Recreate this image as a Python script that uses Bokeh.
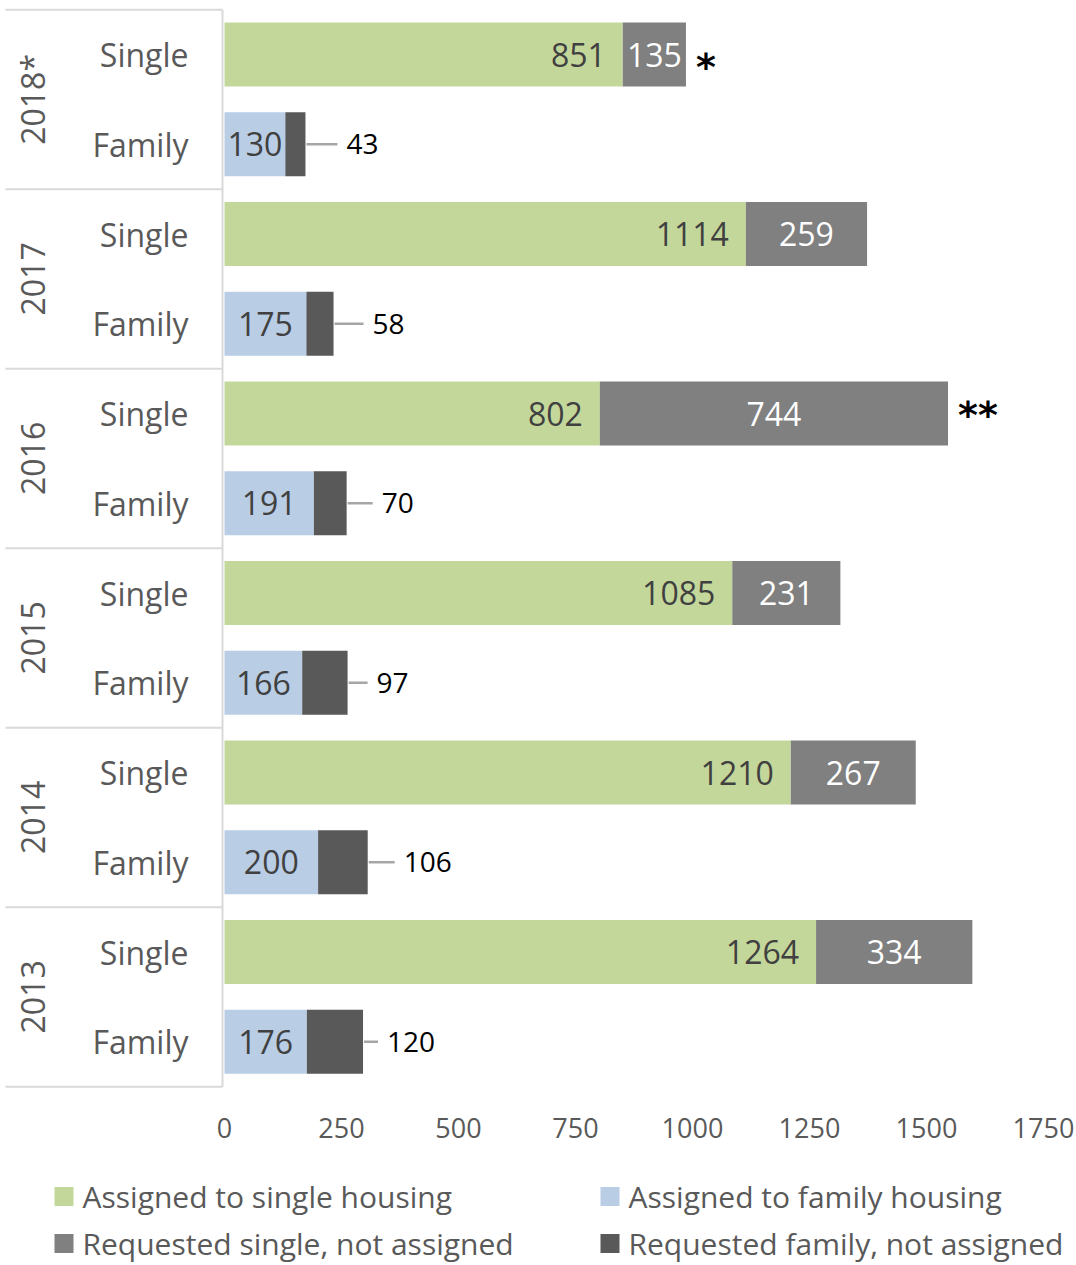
import math
from bokeh.plotting import figure
from bokeh.layouts import column
from bokeh.models import Range1d, FixedTicker, ColumnDataSource
from bokeh.embed import file_html
from bokeh.resources import INLINE
from bokeh.core.properties import value

# ---------------- data ----------------
years = ["2018*", "2017", "2016", "2015", "2014", "2013"]
types = ["Single", "Family"]
single_assigned = [851, 1114, 802, 1085, 1210, 1264]
single_unassigned = [135, 259, 744, 231, 267, 334]
family_assigned = [130, 175, 191, 166, 200, 176]
family_unassigned = [43, 58, 70, 97, 106, 120]
notes = ["*", "", "**", "", "", ""]
x_ticks = [0, 250, 500, 750, 1000, 1250, 1500, 1750]
legend_labels = ["Assigned to single housing", "Assigned to family housing",
                 "Requested single, not assigned", "Requested family, not assigned"]

# ---------------- layout constants ----------------
W = 1076
PX = 819.0 / 1750.0          # pixels per unit
ZERO = 224.0                 # page x of value 0
SLOT = 89.75                 # px between bar centers
SLOT0 = 54.0                 # page y of first bar center
FRAME_BOTTOM = 1092
AXIS_H = 70
H1 = FRAME_BOTTOM + AXIS_H
H2 = 1265 - H1
leader_px = [32, 30, 26, 20, 27, 15]
note_dy = [12, 0, 1, 0, 0, 0]

def dx(px):
    return px / PX

x_start = -ZERO / PX
x_end = (W - ZERO) / PX
y_top = (0 - SLOT0) / SLOT
y_bot = (FRAME_BOTTOM - SLOT0) / SLOT

FONT = value("Open Sans")
GREEN, BLUE, GRAY, DARK = "#C4D79B", "#B9CDE5", "#808080", "#595959"
TXT = "#595959"

p = figure(width=W, height=H1, output_backend="svg", toolbar_location=None,
           x_range=Range1d(x_start, x_end), y_range=Range1d(y_bot, y_top),
           y_axis_location=None, min_border_left=0, min_border_right=0,
           min_border_top=0, min_border_bottom=AXIS_H)
p.outline_line_color = None
p.xgrid.visible = False
p.ygrid.visible = False

n = len(years)
s_slot = [2 * i for i in range(n)]
f_slot = [2 * i + 1 for i in range(n)]
bh = 64.0 / SLOT

src_s = ColumnDataSource(dict(
    y=s_slot, a=single_assigned, u=single_unassigned,
    end=[a + u for a, u in zip(single_assigned, single_unassigned)],
    a_lab=[str(v) for v in single_assigned], u_lab=[str(v) for v in single_unassigned],
    a_x=[a - dx(17) for a in single_assigned],
    u_x=[a + u / 2 for a, u in zip(single_assigned, single_unassigned)],
    note=notes,
    note_y=[k + d / SLOT for k, d in zip(s_slot, note_dy)],
    note_x=[a + u + dx(10) for a, u in zip(single_assigned, single_unassigned)],
))
src_f = ColumnDataSource(dict(
    y=f_slot, a=family_assigned, u=family_unassigned,
    end=[a + u for a, u in zip(family_assigned, family_unassigned)],
    a_lab=[str(v) for v in family_assigned], u_lab=[str(v) for v in family_unassigned],
    a_x=[a / 2 for a in family_assigned],
    l1=[a + u + dx(1) for a, u in zip(family_assigned, family_unassigned)],
    l2=[a + u + dx(L) for a, u, L in zip(family_assigned, family_unassigned, leader_px)],
    t_x=[a + u + dx(L + 9) for a, u, L in zip(family_assigned, family_unassigned, leader_px)],
))

p.hbar(y="y", left=0, right="a", height=bh, source=src_s, fill_color=GREEN, line_color=None)
p.hbar(y="y", left="a", right="end", height=bh, source=src_s, fill_color=GRAY, line_color=None)
p.hbar(y="y", left=0, right="a", height=bh, source=src_f, fill_color=BLUE, line_color=None)
p.hbar(y="y", left="a", right="end", height=bh, source=src_f, fill_color=DARK, line_color=None)

# bar labels
p.text(x="a_x", y="y", text="a_lab", source=src_s, text_font=FONT, text_font_size="32px",
       text_color="#404040", text_align="right", text_baseline="middle")
p.text(x="u_x", y="y", text="u_lab", source=src_s, text_font=FONT, text_font_size="32px",
       text_color="white", text_align="center", text_baseline="middle")
p.text(x="note_x", y="note_y", text="note", source=src_s, text_font=value("DejaVu Sans"),
       text_font_size="38px", text_font_style="bold", text_color="black",
       text_align="left", text_baseline="middle")
p.text(x="a_x", y="y", text="a_lab", source=src_f, text_font=FONT, text_font_size="32px",
       text_color="#404040", text_align="center", text_baseline="middle")
p.segment(x0="l1", y0="y", x1="l2", y1="y", source=src_f, line_color="#A6A6A6", line_width=2.5)
p.text(x="t_x", y="y", text="u_lab", source=src_f, text_font=FONT, text_font_size="28px",
       text_color="black", text_align="left", text_baseline="middle")

# category labels (left)
cat_y = [k for k in range(2 * n)]
cat_t = [types[k % 2] for k in range(2 * n)]
p.text(x=[dx(188 - ZERO)] * (2 * n), y=cat_y, text=cat_t, text_font=FONT,
       text_font_size="32px", text_color=TXT, text_align="right", text_baseline="middle")
p.text(x=[dx(32 - ZERO)] * n, y=[2 * i + 0.5 for i in range(n)], text=years,
       angle=math.pi / 2, text_font=FONT, text_font_size="32px", text_color=TXT,
       text_align="center", text_baseline="middle")

# separators
bounds = [2 * i - 0.5 for i in range(n + 1)]
p.segment(x0=[dx(5 - ZERO)] * (n + 1), y0=bounds, x1=[dx(222 - ZERO)] * (n + 1), y1=bounds,
          line_color="#D9D9D9", line_width=2)
p.segment(x0=[dx(222 - ZERO)], y0=[bounds[0]], x1=[dx(222 - ZERO)], y1=[bounds[-1]],
          line_color="#D9D9D9", line_width=2)

# x axis
ax = p.xaxis[0]
ax.ticker = FixedTicker(ticks=x_ticks)
ax.axis_line_color = None
ax.major_tick_line_color = None
ax.minor_tick_line_color = None
ax.major_tick_out = 0
ax.major_tick_in = 0
ax.major_label_standoff = 25
ax.major_label_text_font = "Open Sans"
ax.major_label_text_font_size = "27px"
ax.major_label_text_color = TXT

# legend (separate strip, pixel coordinates)
p2 = figure(width=W, height=H2, output_backend="svg", toolbar_location=None,
            x_range=Range1d(0, W), y_range=Range1d(H2, 0),
            x_axis_location=None, y_axis_location=None,
            min_border_left=0, min_border_right=0, min_border_top=0, min_border_bottom=0)
p2.outline_line_color = None
p2.xgrid.visible = False
p2.ygrid.visible = False
col_x = [54, 600]
row_y = [1196 - H1, 1243 - H1]
leg_colors = [GREEN, BLUE, GRAY, DARK]
lx = [col_x[i % 2] for i in range(4)]
ly = [row_y[i // 2] for i in range(4)]
src_l = ColumnDataSource(dict(x=[v + 9.5 for v in lx], y=ly, tx=[v + 28 for v in lx],
                              color=leg_colors, label=legend_labels))
p2.rect(x="x", y="y", width=19, height=19, source=src_l, fill_color="color", line_color=None)
p2.text(x="tx", y="y", text="label", source=src_l, text_font=FONT, text_font_size="30px",
        text_color=TXT, text_align="left", text_baseline="middle")

layout = column(p, p2, spacing=0)
open("out.html", "w").write(file_html(layout, INLINE))
